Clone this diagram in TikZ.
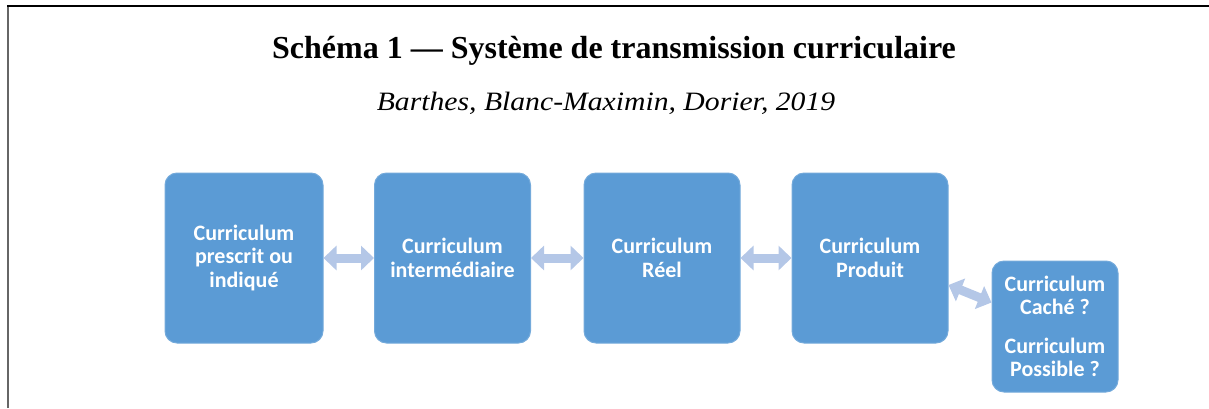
\documentclass[tikz,border=0pt]{standalone}
\usepackage{fontspec}
\setmainfont{Liberation Serif}
\newfontfamily\boxfont{Carlito}
\usetikzlibrary{arrows.meta}
\definecolor{boxblue}{RGB}{91,155,213}
\definecolor{arrowblue}{RGB}{180,199,231}
\tikzset{
  cbox/.style={fill=boxblue, draw=boxblue!85!white, line width=1pt, rounded corners=12pt,
    text=white, align=center, inner sep=0pt,
    font=\boxfont\bfseries\fontsize{22}{23.5}\selectfont},
  darrow/.style={draw=arrowblue, line width=9pt,
    {Triangle[width=24pt,length=13pt]}-{Triangle[width=24pt,length=13pt]}},
}
\begin{document}
\begin{tikzpicture}[x=1pt,y=-1pt]
\useasboundingbox (0,0) rectangle (1209,408);
\draw[line width=2pt, black!60] (8,408) -- (8,6);
\draw[line width=2pt, black] (7,6) -- (1209,6);
\node[font=\bfseries\fontsize{32}{36}\selectfont, anchor=base, inner sep=0pt] (title) at (614,58) {Schéma 1 — Système de transmission curriculaire};
\node[font=\itshape\fontsize{26.5}{30}\selectfont, anchor=base, inner sep=0pt] (sub) at (606,110) {\scalebox{1.12}[1]{Barthes, Blanc-Maximin, Dorier, 2019}};

\node[cbox, minimum width=158pt, minimum height=170pt] (b1) at (244,258) {Curriculum\\prescrit ou\\indiqué};
\node[cbox, minimum width=156pt, minimum height=170pt] (b2) at (452.5,258) {Curriculum\\intermédiaire};
\node[cbox, minimum width=156pt, minimum height=170pt] (b3) at (662,258) {Curriculum\\Réel};
\node[cbox, minimum width=156pt, minimum height=170pt] (b4) at (870,258) {Curriculum\\Produit};
\node[cbox, minimum width=126pt, minimum height=131pt] (b5) at (1055,326.5) {Curriculum\\Caché ?\\[15pt]Curriculum\\Possible ?};

\draw[darrow] (b1.east) -- (b2.west);
\draw[darrow] (b2.east) -- (b3.west);
\draw[darrow] (b3.east) -- (b4.west);
\draw[darrow] ([yshift=-27pt]b4.east) -- ([yshift=24pt]b5.west);
\end{tikzpicture}
\end{document}
